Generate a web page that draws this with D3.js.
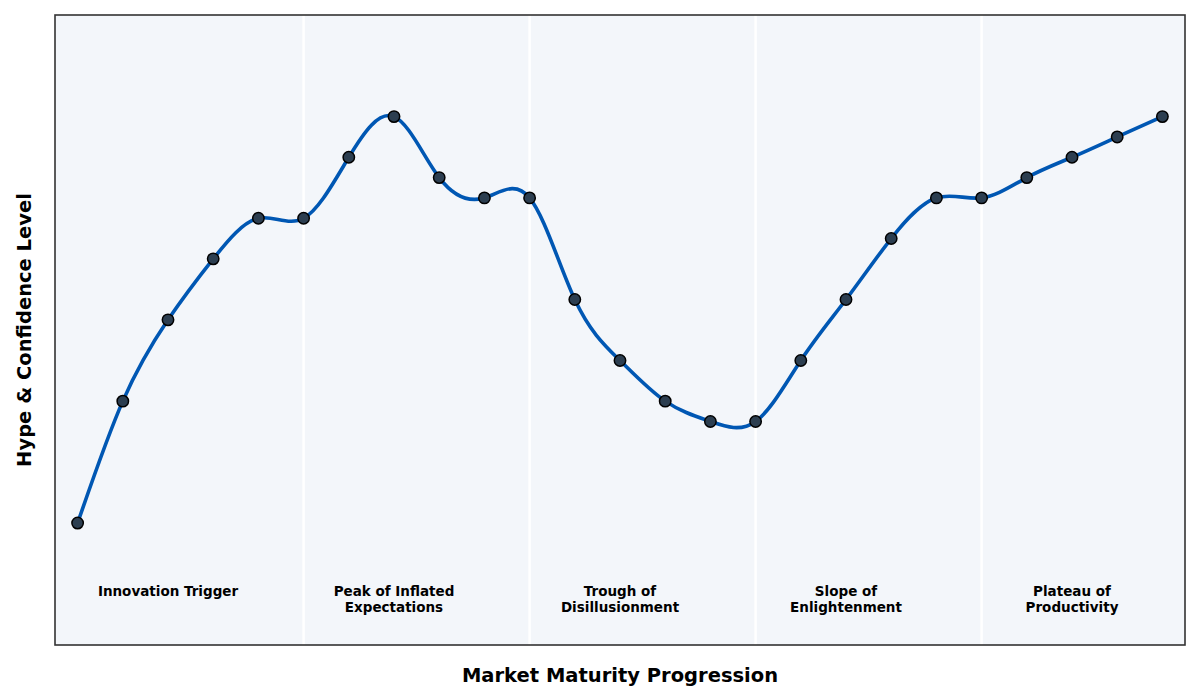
<!DOCTYPE html>
<html>
<head>
<meta charset="utf-8">
<title>Hype Cycle</title>
<script src="https://d3js.org/d3.v7.min.js"></script>
<style>
  body { margin: 0; background: #fff; }
  text { font-family: "DejaVu Sans", sans-serif; }
</style>
</head>
<body>
<div id="chart"></div>
<script>
// data
var steps = d3.range(25)
var hype = [10, 40, 60, 75, 85, 85, 100, 110, 95, 90, 90, 65, 50, 40, 35, 35, 50, 65, 80, 90, 90, 95, 100, 105, 110]
var phaseBounds = [5, 10, 15, 20]
var phaseNames = [["Innovation Trigger"], ["Peak of Inflated", "Expectations"], ["Trough of", "Disillusionment"], ["Slope of", "Enlightenment"], ["Plateau of", "Productivity"]]
var phaseCenters = [2, 7, 12, 17, 22]

var width = 1200, height = 700
var margin = {top: 15, right: 15, bottom: 55, left: 55}

var svg = d3.select("#chart").append("svg")
    .attr("width", width)
    .attr("height", height)

var x = d3.scaleLinear()
    .domain([-0.5, 24.5])
    .range([margin.left, width - margin.right])
var y = d3.scaleLinear()
    .domain([-20, 135])
    .range([height - margin.bottom, margin.top])

// background
svg.append("rect")
    .attr("x", margin.left).attr("y", margin.top)
    .attr("width", width - margin.left - margin.right)
    .attr("height", height - margin.top - margin.bottom)
    .style("fill", "#f3f6fa")

// phase separators
svg.selectAll(".sep")
  .data(phaseBounds)
  .enter().append("line")
    .attr("x1", d => x(d)).attr("x2", d => x(d))
    .attr("y1", margin.top).attr("y2", height - margin.bottom)
    .style("stroke", "#ffffff")
    .style("stroke-width", 2.5)

// phase labels
var labels = svg.selectAll(".phase")
  .data(phaseNames)
  .enter().append("text")
    .attr("x", (d, i) => x(phaseCenters[i]))
    .attr("y", y(-5) - 1)
    .attr("text-anchor", "middle")
    .style("font-size", "13.5px")
    .style("font-weight", "bold")
labels.selectAll("tspan")
  .data(d => d)
  .enter().append("tspan")
    .attr("x", function() { return this.parentNode.getAttribute("x") })
    .attr("dy", (d, i) => i == 0 ? "0.95em" : "1.18em")
    .text(d => d)

// curve
var line = d3.line()
    .x((d, i) => x(steps[i]))
    .y(d => y(d))
    .curve(d3.curveNatural)
svg.append("path")
    .datum(hype)
    .attr("d", line)
    .style("fill", "none")
    .style("stroke", "#0057b3")
    .style("stroke-width", 3.6)

svg.selectAll(".dot")
  .data(hype)
  .enter().append("circle")
    .attr("cx", (d, i) => x(steps[i]))
    .attr("cy", d => y(d))
    .attr("r", 5.7)
    .style("fill", "#2c3e50")
    .style("stroke", "#000")
    .style("stroke-width", 1.5)

// frame
svg.append("rect")
    .attr("x", margin.left).attr("y", margin.top)
    .attr("width", width - margin.left - margin.right)
    .attr("height", height - margin.top - margin.bottom)
    .style("fill", "none")
    .style("stroke", "#333")
    .style("stroke-width", 1.6)

// axis titles
svg.append("text")
    .attr("x", (margin.left + width - margin.right) / 2)
    .attr("y", 682)
    .attr("text-anchor", "middle")
    .style("font-size", "19.5px")
    .style("font-weight", "bold")
    .text("Market Maturity Progression")
svg.append("text")
    .attr("transform", "translate(31," + ((margin.top + height - margin.bottom) / 2) + ") rotate(-90)")
    .attr("text-anchor", "middle")
    .style("font-size", "19.5px")
    .style("font-weight", "bold")
    .text("Hype & Confidence Level")
</script>
</body>
</html>
